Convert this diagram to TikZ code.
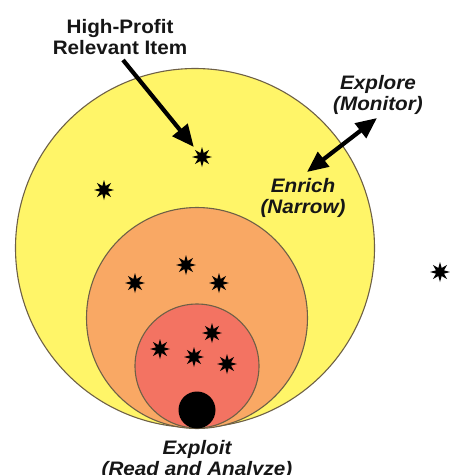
\documentclass[tikz,border=0pt]{standalone}
\usepackage{fontspec}
\setmainfont{Liberation Sans}[FakeStretch=1.06]
\usetikzlibrary{shapes.geometric,arrows.meta}
\definecolor{cyel}{RGB}{255,245,104}
\definecolor{corg}{RGB}{249,168,100}
\definecolor{cred}{RGB}{243,115,98}
\definecolor{cedge}{RGB}{110,96,70}
\definecolor{ctext}{RGB}{22,22,22}
\begin{document}
\begin{tikzpicture}[x=1pt,y=-1pt,
  zone/.style={circle,draw=cedge,line width=1.1pt,inner sep=0pt},
  item/.style={star,star points=8,star point ratio=2.3,fill=black,draw=none,inner sep=0pt,minimum size=20pt},
  lab/.style={text=ctext,align=center,font=\fontsize{19.5}{21}\selectfont\bfseries},
  ilab/.style={lab,font=\fontsize{19.5}{21}\selectfont\bfseries\itshape},
  bigarrow/.style={line width=4.2pt,-{Triangle[length=22pt,width=19pt]}},
  duoarrow/.style={line width=4.2pt,{Triangle[length=21pt,width=18pt]}-{Triangle[length=21pt,width=18pt]}}
]
\useasboundingbox (0,0) rectangle (450,475);
% nested zones
\node[zone,fill=cyel,minimum size=359pt] (outer) at (195,248) {};
\node[zone,fill=corg,minimum size=221pt] (mid) at (197,318) {};
\node[zone,fill=cred,minimum size=124pt] (inner) at (197,366) {};
\node[circle,fill=black,inner sep=0pt,minimum size=37pt] (dot) at (197,410) {};
% items
\node[item] (s1) at (202,157) {};
\node[item] (s2) at (104,190) {};
\node[item] (s3) at (186,265) {};
\node[item] (s4) at (135,283) {};
\node[item] (s5) at (219,283) {};
\node[item] (s6) at (212,333) {};
\node[item] (s7) at (160,349) {};
\node[item] (s8) at (194,357) {};
\node[item] (s9) at (227,364) {};
\node[item] (s10) at (440,272) {};
% labels
\node[lab] (hp) at (120,37) {High-Profit\\Relevant Item};
\node[ilab] (ex) at (378,95) {Explore\\(Monitor)};
\node[ilab] (en) at (303,198) {Enrich\\(Narrow)};
\node[ilab] (xp) at (197,460) {Exploit\\(Read and Analyze)};
% arrows
\coordinate (a1) at (123,60);
\draw[bigarrow,shorten >=13pt] (a1) -- (s1.center);
\coordinate (a2s) at (307,172);
\coordinate (a2e) at (377,118);
\draw[duoarrow] (a2s) -- (a2e);
\end{tikzpicture}
\end{document}
